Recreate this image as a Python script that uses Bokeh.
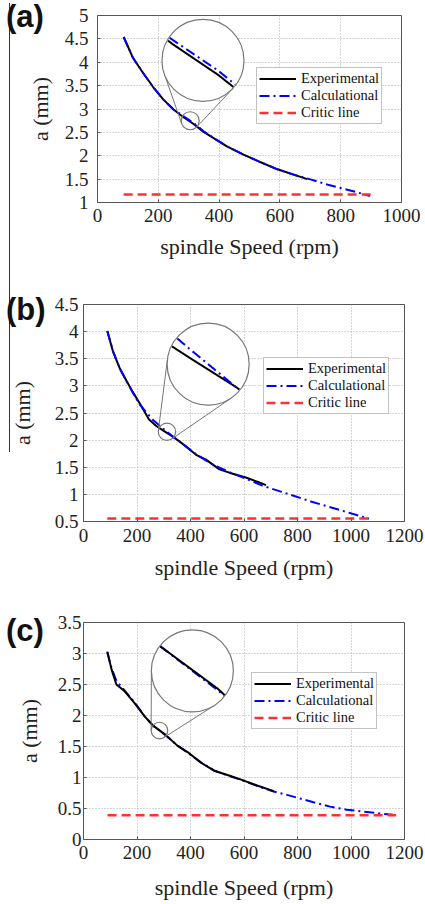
import numpy as np
from bokeh.plotting import figure
from bokeh.models import (Legend, LegendItem, Range1d, Div,
                          FixedTicker, NumeralTickFormatter)
from bokeh.layouts import column
from bokeh.embed import file_html
from bokeh.resources import INLINE

# ---------------- data ----------------
# panel (a)
a_exp_x = [86, 117, 150, 183, 217, 250, 283, 316, 349, 382, 427, 482, 537, 592, 648, 690]
a_exp_y = [4.54, 4.09, 3.77, 3.47, 3.20, 2.99, 2.825, 2.68, 2.51, 2.375, 2.195, 2.02, 1.86, 1.71, 1.59, 1.50]
a_calc_x = [86, 117, 150, 183, 217, 250, 283, 316, 349, 382, 427, 482, 537, 592, 648, 703, 758, 813, 869, 896]
a_calc_y = [4.54, 4.09, 3.77, 3.47, 3.20, 2.99, 2.845, 2.70, 2.525, 2.38, 2.20, 2.02, 1.86, 1.71, 1.59, 1.49, 1.38, 1.29, 1.19, 1.14]
a_crit_x = [86, 900]
a_crit_y = [1.17, 1.17]

# panel (b)
b_exp_x = [89, 111, 135, 160, 185, 210, 225, 245, 272, 297, 334, 371, 421, 458, 508, 545, 607, 657, 682]
b_exp_y = [4.01, 3.62, 3.33, 3.10, 2.88, 2.68, 2.55, 2.38, 2.26, 2.18, 2.065, 1.93, 1.73, 1.64, 1.46, 1.40, 1.31, 1.22, 1.17]
b_calc_x = [89, 111, 135, 160, 185, 210, 235, 260, 297, 334, 371, 421, 483, 545, 607, 669, 732, 794, 856, 918, 980, 1042, 1067]
b_calc_y = [4.01, 3.63, 3.33, 3.09, 2.87, 2.66, 2.51, 2.37, 2.215, 2.065, 1.93, 1.74, 1.55, 1.41, 1.29, 1.16, 1.06, 0.96, 0.86, 0.77, 0.68, 0.59, 0.55]
b_crit_x = [89, 1077]
b_crit_y = [0.555, 0.555]

# panel (c)
c_exp_x = [89, 105, 123, 154, 191, 228, 259, 303, 352, 389, 439, 488, 538, 587, 649, 711]
c_exp_y = [3.03, 2.74, 2.50, 2.39, 2.20, 1.99, 1.84, 1.70, 1.51, 1.41, 1.24, 1.11, 1.04, 0.97, 0.87, 0.78]
c_calc_x = [89, 105, 123, 154, 191, 228, 259, 303, 352, 389, 439, 488, 538, 587, 649, 711, 761, 810, 860, 922, 984, 1045, 1107, 1157]
c_calc_y = [3.02, 2.76, 2.56, 2.40, 2.21, 1.99, 1.84, 1.695, 1.515, 1.40, 1.245, 1.115, 1.035, 0.965, 0.865, 0.775, 0.72, 0.66, 0.60, 0.53, 0.48, 0.45, 0.42, 0.40]
c_crit_x = [90, 1169]
c_crit_y = [0.39, 0.39]

series_labels = ["Experimental", "Calculational", "Critic line"]
panel_tags = ["(a)", "(b)", "(c)"]
x_label = "spindle Speed (rpm)"
y_label = "a (mm)"

SERIF = "Liberation Serif"
BL = 83   # same left border for every plot (a column aligns plot frames)
BR = 21   # same right border for every plot


def make_panel(exp_x, exp_y, calc_x, calc_y, crit_x, crit_y,
               xmax, ymin, ymax, frame_left, frame_w, frame_h, bt, bb,
               legend_loc, inset, blue_on_top, ylab_standoff, ytick_standoff,
               xtick_standoff, xlab_standoff):
    shift = frame_left - BL          # canvas is moved right by this many px
    p = figure(frame_width=frame_w, frame_height=frame_h,
               min_border_left=BL, min_border_right=BR,
               min_border_top=bt, min_border_bottom=bb,
               x_range=Range1d(0, xmax), y_range=Range1d(ymin, ymax),
               output_backend="svg", toolbar_location=None,
               margin=(0, 0, 0, shift))
    p.outline_line_color = "#555555"
    p.outline_line_width = 1
    p.background_fill_color = "white"
    p.border_fill_alpha = 0

    xticks = list(range(0, xmax + 1, 200))
    yticks = list(np.arange(ymin, ymax + 0.001, 0.5))
    p.xaxis.ticker = FixedTicker(ticks=xticks)
    p.yaxis.ticker = FixedTicker(ticks=yticks)
    for ax in (p.xaxis[0], p.yaxis[0]):
        ax.formatter = NumeralTickFormatter(format="0.[0]")
        ax.axis_line_color = None
        ax.major_tick_line_color = "#555555"
        ax.major_tick_in = 3
        ax.major_tick_out = 0
        ax.minor_tick_line_color = None
        ax.major_label_text_font = SERIF
        ax.major_label_text_font_size = "19px"
        ax.major_label_text_color = "#222222"
        ax.axis_label_text_font = SERIF
        ax.axis_label_text_font_size = "22px"
        ax.axis_label_text_font_style = "normal"
        ax.axis_label_text_color = "#222222"
    p.xaxis.axis_label = x_label
    p.yaxis.axis_label = y_label
    p.yaxis.axis_label_standoff = ylab_standoff
    p.yaxis.major_label_standoff = ytick_standoff
    p.xaxis.major_label_standoff = xtick_standoff
    p.xaxis.axis_label_standoff = xlab_standoff

    for g in (p.xgrid[0], p.ygrid[0]):
        g.grid_line_color = "#aaaaaa"
        g.grid_line_dash = "1 2"
        g.grid_line_width = 1

    exp_kw = dict(line_color="black", line_width=2)
    calc_kw = dict(line_color="#0000ff", line_width=2, line_dash="10 4 2 4")
    if blue_on_top:
        r_exp = p.line(exp_x, exp_y, **exp_kw)
        r_calc = p.line(calc_x, calc_y, **calc_kw)
    else:
        r_calc = p.line(calc_x, calc_y, **calc_kw)
        r_exp = p.line(exp_x, exp_y, **exp_kw)
    r_crit = p.line(crit_x, crit_y, line_color="#ff3030", line_width=2.5, line_dash="9 5")

    # ---- magnifier inset (zoom of the curves around the small circle) ----
    zx, r, bx, by, R = inset
    sx = frame_w / xmax
    sy = frame_h / (ymax - ymin)
    zy = float(np.interp(zx, calc_x, calc_y))
    M = R / r
    dX, dY = (bx - zx) * sx, (by - zy) * sy
    D = np.hypot(dX, dY)
    th = np.arctan2(dY, dX)
    phi = np.arccos(-(R - r) / D)
    x0s, y0s, x1s, y1s = [], [], [], []
    for s in (1, -1):
        mx, my = np.cos(th + s * phi), np.sin(th + s * phi)
        x0s.append(zx + r * mx / sx); y0s.append(zy + r * my / sy)
        x1s.append(zx + (dX + R * mx) / sx); y1s.append(zy + (dY + R * my) / sy)
    p.segment(x0=x0s, y0=y0s, x1=x1s, y1=y1s, line_color="#777777", line_width=1)
    p.scatter([bx], [by], size=2 * R, marker="circle", fill_color="white",
              line_color="#777777", line_width=1.2)
    p.scatter([zx], [zy], size=2 * r, marker="circle", fill_alpha=0,
              line_color="#777777", line_width=1.2)

    def magnified(sx_list, sy_list):
        xs = np.linspace(zx - r / sx, zx + r / sx, 300)
        ys = np.interp(xs, sx_list, sy_list)
        ddx, ddy = (xs - zx) * sx, (ys - zy) * sy
        keep = ddx ** 2 + ddy ** 2 <= (r * 0.985) ** 2
        return bx + M * ddx[keep] / sx, by + M * ddy[keep] / sy

    ex, ey = magnified(exp_x, exp_y)
    cx_, cy_ = magnified(calc_x, calc_y)
    if blue_on_top:
        p.line(ex, ey, **exp_kw)
        p.line(cx_, cy_, **calc_kw)
    else:
        p.line(cx_, cy_, **calc_kw)
        p.line(ex, ey, **exp_kw)

    legend = Legend(items=[LegendItem(label=series_labels[0], renderers=[r_exp]),
                           LegendItem(label=series_labels[1], renderers=[r_calc]),
                           LegendItem(label=series_labels[2], renderers=[r_crit])],
                    location=legend_loc)
    legend.label_text_font = SERIF
    legend.label_text_font_size = "14.5px"
    legend.label_text_line_height = 0.9
    legend.label_text_color = "#111111"
    legend.glyph_width = 37
    legend.glyph_height = 15
    legend.label_height = 15
    legend.label_standoff = 5
    legend.spacing = 0
    legend.padding = 2
    legend.margin = 0
    legend.border_line_color = "#888888"
    legend.border_line_width = 1
    legend.background_fill_alpha = 1
    p.add_layout(legend)
    return p


pa = make_panel(a_exp_x, a_exp_y, a_calc_x, a_calc_y, a_crit_x, a_crit_y,
                1000, 1, 5, 97, 304, 187, 15, 82, (159, 78),
                (305, 9, 347, 4.04, 41), True, 9, 9, 6, 9)
pb = make_panel(b_exp_x, b_exp_y, b_calc_x, b_calc_y, b_crit_x, b_crit_y,
                1200, 0.5, 4.5, 83, 321, 217, 20, 79, (180, 107),
                (312, 8.7, 466, 3.40, 41), True, 17, 5, 7, 10)
pc = make_panel(c_exp_x, c_exp_y, c_calc_x, c_calc_y, c_crit_x, c_crit_y,
                1200, 0, 3.5, 83, 321, 217, 22, 65, (168, 110),
                (284, 8.3, 407, 2.72, 41), False, 13, 2, 6, 13)


def tag_div(text, top):
    h = 36
    return Div(text=('<span style="font-family:\'Liberation Sans\';font-weight:bold;'
                     'font-size:31px;line-height:36px;color:#111">%s</span>' % text),
               width=48, height=h, margin=(top, 0, -(top + h), 6),
               styles={"z-index": "5"})


# thin vertical rule seen at the left edge of the reference
rule = Div(text="", width=1, height=449, margin=(3, 0, -452, 9),
           styles={"z-index": "5", "border-left": "1px solid #333333"})

layout = column(rule, tag_div(panel_tags[0], -1), pa,
                tag_div(panel_tags[1], 8), pb,
                tag_div(panel_tags[2], 13), pc, spacing=0)
open("out.html", "w").write(file_html(layout, INLINE))
